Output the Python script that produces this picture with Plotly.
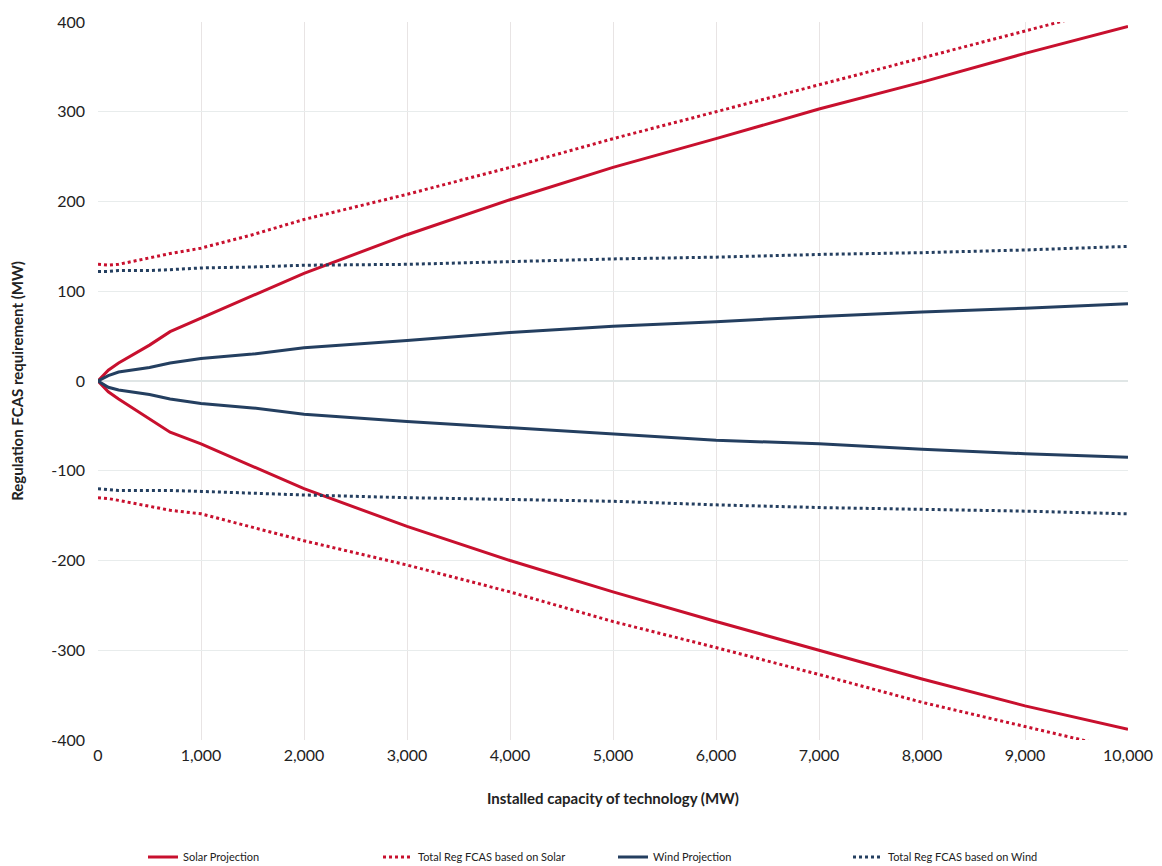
import plotly.graph_objects as go

x = [0, 100, 200, 500, 700, 1000, 1500, 2000, 3000, 4000, 5000, 6000, 7000, 8000, 9000, 10000]

solar_up = [0, 12, 20, 40, 55, 70, 95, 120, 163, 202, 238, 270, 303, 333, 365, 395]
solar_lo = [0, -12, -20, -42, -57, -70, -95, -120, -162, -200, -235, -268, -300, -332, -362, -388]
solar_tot_up = [130, 129, 130, 137, 142, 148, 163, 180, 208, 238, 270, 300, 330, 360, 390, 420]
solar_tot_lo = [-130, -131, -133, -140, -144, -148, -163, -178, -205, -235, -268, -297, -327, -358, -385, -412]

wind_up = [0, 6, 10, 15, 20, 25, 30, 37, 45, 54, 61, 66, 72, 77, 81, 86]
wind_lo = [0, -7, -10, -15, -20, -25, -30, -37, -45, -52, -59, -66, -70, -76, -81, -85]
wind_tot_up = [122, 122, 123, 123, 124, 126, 127, 129, 130, 133, 136, 138, 141, 143, 146, 150]
wind_tot_lo = [-120, -121, -122, -122, -122, -123, -125, -127, -130, -132, -134, -138, -141, -143, -145, -148]

y_ticks = [-400, -300, -200, -100, 0, 100, 200, 300, 400]
y_labels = ["-400", "-300", "-200", "-100", "0", "100", "200", "300", "400"]

RED = "#C8102E"
NAVY = "#243F60"

series = [
    ("Solar Projection", solar_up, solar_lo, RED, "solid"),
    ("Total Reg FCAS based on Solar", solar_tot_up, solar_tot_lo, RED, "dot"),
    ("Wind Projection", wind_up, wind_lo, NAVY, "solid"),
    ("Total Reg FCAS based on Wind", wind_tot_up, wind_tot_lo, NAVY, "dot"),
]

fig = go.Figure()
for name, up, lo, color, dash in series:
    for ys, show in ((up, True), (lo, False)):
        fig.add_trace(go.Scatter(
            x=x, y=ys, mode="lines", name=name, legendgroup=name, showlegend=show,
            line=dict(color=color, dash=dash, width=3),
        ))

fig.update_layout(
    width=1154, height=858,
    margin=dict(l=90, r=34, t=14, b=126, autoexpand=False),
    plot_bgcolor="white", paper_bgcolor="white",
    font=dict(family="Lato, sans-serif", color="#222"),
    legend=dict(orientation="h", x=0.5, xanchor="center", y=-0.163, yanchor="middle",
                font=dict(size=11), traceorder="normal", entrywidth=190),
    xaxis=dict(
        range=[0, 10000], dtick=1000, tickformat=",d", showgrid=True, gridcolor="#e8e4e4",
        zeroline=False, tickfont=dict(size=16), automargin=False, ticklabelstandoff=4,
        title=dict(text="<b>Installed capacity of technology (MW)</b>", font=dict(size=15), standoff=30),
    ),
    yaxis=dict(
        range=[-400, 400], tickvals=y_ticks, ticktext=y_labels, showgrid=True, gridcolor="#e8ecec",
        zeroline=True, zerolinecolor="#e0e6e6", zerolinewidth=2, tickfont=dict(size=16),
        automargin=False, ticklabelstandoff=12,
        title=dict(text="<b>Regulation FCAS requirement (MW)</b>", font=dict(size=15), standoff=24),
    ),
)

fig.write_html("out.html")
